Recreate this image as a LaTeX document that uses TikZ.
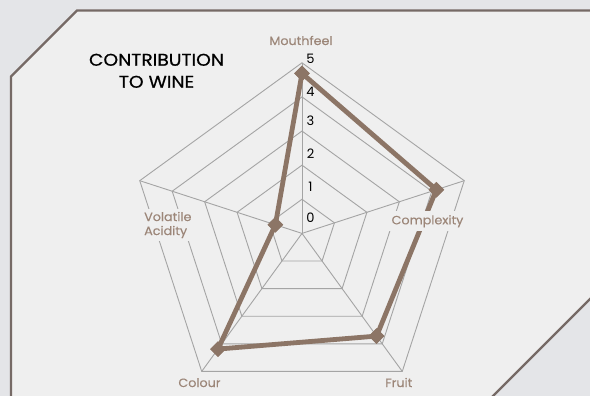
\documentclass[tikz,border=0pt]{standalone}
\usepackage{fontspec}
\setmainfont{Poppins}
\newfontfamily\titlefont{Poppins}[FakeBold=0.6, FakeStretch=1.1]
\newfontfamily\labfont{Poppins}[FakeBold=0.3, FakeStretch=1.06]
\definecolor{outerbg}{HTML}{E4E5E8}
\definecolor{panelbg}{HTML}{EFEFEF}
\definecolor{framec}{HTML}{766A66}
\definecolor{gridc}{HTML}{A4A4A4}
\definecolor{datac}{HTML}{8C7566}
\definecolor{labc}{HTML}{9C8678}
\tikzset{
  gridline/.style={draw=gridc, line width=0.9pt},
  dataline/.style={draw=datac, line width=4.8pt, line join=round},
  datamark/.style={rectangle, fill=datac, minimum size=11pt, inner sep=0pt, rotate=45},
  axlabel/.style={text=labc, font=\labfont\fontsize{12}{14}\selectfont, inner sep=1pt},
  numlab/.style={text=black, font=\fontsize{13}{15}\selectfont, inner sep=0pt},
  titletext/.style={text=black, font=\titlefont\fontsize{17}{22}\selectfont, align=center, inner sep=0pt}
}
\begin{document}
\begin{tikzpicture}[x=1pt,y=-1pt]
\useasboundingbox (0,0) rectangle (590,396);
\fill[outerbg] (0,0) rectangle (590,396);
\filldraw[fill=panelbg, draw=framec, line width=2.3pt]
  (77,10.5) -- (593,10.5) -- (593,296) -- (491,398) -- (11,398) -- (11,76.5) -- cycle;

\begin{scope}[shift={(302,233.4)}]
  \coordinate (O) at (0,0);
  \coordinate (aM) at (-90:170.6);
  \coordinate (aC) at (-18:170.6);
  \coordinate (aF) at (54:170.6);
  \coordinate (aCo) at (126:170.6);
  \coordinate (aV) at (198:170.6);
  \foreach \r in {1,...,5}{
    \draw[gridline] (-90:{\r*34.12}) -- (-18:{\r*34.12}) -- (54:{\r*34.12})
      -- (126:{\r*34.12}) -- (198:{\r*34.12}) -- cycle;
  }
  \foreach \a in {aM,aC,aF,aCo,aV}{
    \draw[gridline] (O) -- (\a);
  }
  \node[datamark] (dM) at (-90:{4.69*34.12}) {};
  \node[datamark] (dC) at (-18:{4.14*34.12}) {};
  \node[datamark] (dF) at (54:{3.72*34.12}) {};
  \node[datamark] (dCo) at (126:{4.19*34.12}) {};
  \node[datamark] (dV) at (198:{0.82*34.12}) {};
  \draw[dataline] (dM.center) -- (dC.center) -- (dF.center) -- (dCo.center) -- (dV.center) -- cycle;
  \foreach \m in {dM,dC,dF,dCo,dV}{
    \node[datamark] at (\m) {};
  }
\end{scope}

\node[axlabel, anchor=base] (lM) at (301,45) {Mouthfeel};
\node[axlabel, anchor=base, fill=panelbg, inner xsep=3pt, inner ysep=4pt] (lC) at (427.5,224.3) {Complexity};
\node[axlabel, anchor=base] (lF) at (398.8,387) {Fruit};
\node[axlabel, anchor=base] (lCo) at (199.5,387) {Colour};
\node[axlabel, anchor=west, align=left, fill=panelbg, inner xsep=3pt, inner ysep=3pt] (lV) at (141,225) {Volatile\\Acidity};

\node[titletext] (title) at (156.5,70.8) {CONTRIBUTION\\TO WINE};

\node[numlab] (n5) at (310.5,59) {5};
\node[numlab] (n4) at (310.5,92.3) {4};
\node[numlab] (n3) at (310.5,120.7) {3};
\node[numlab] (n2) at (310.5,153.3) {2};
\node[numlab] (n1) at (310.5,187.3) {1};
\node[numlab] (n0) at (310.5,217.3) {0};
\end{tikzpicture}
\end{document}
